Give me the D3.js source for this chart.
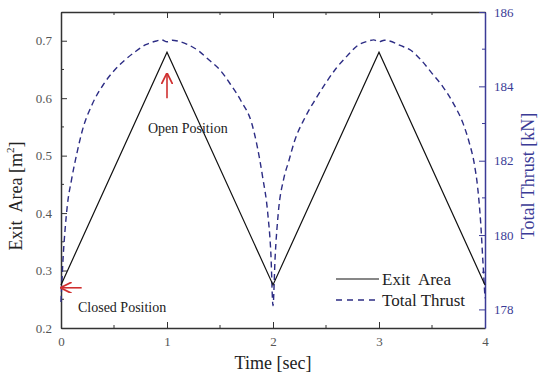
<!DOCTYPE html>
<html>
<head>
<meta charset="utf-8">
<script src="https://cdn.jsdelivr.net/npm/d3@7"></script>
<style>
  body { margin: 0; background: #fff; }
  text { font-family: "Liberation Serif", "DejaVu Serif", serif; }
</style>
</head>
<body>
<div id="chart"></div>
<script>
// exit area, triangle wave between closed and open
const areaTime = [0, 1, 2, 3, 4];
const exitArea = [0.275, 0.68, 0.275, 0.68, 0.275];

// total thrust
const thrustTime = [0, 0.02, 0.04, 0.06, 0.1, 0.15, 0.2, 0.3, 0.4, 0.5, 0.6, 0.7, 0.8, 0.9, 0.95, 1.0, 1.05, 1.1,
  1.2, 1.3, 1.4, 1.5, 1.6, 1.7, 1.8, 1.85, 1.9, 1.95, 1.98, 2.0, 2.02, 2.05, 2.1, 2.15, 2.2, 2.3, 2.4, 2.5,
  2.6, 2.7, 2.8, 2.9, 2.95, 3.0, 3.05, 3.1, 3.2, 3.3, 3.4, 3.5, 3.6, 3.7, 3.8, 3.85, 3.9, 3.93, 3.96, 3.98, 4.0];
const totalThrust = [178.2, 179.4, 180.2, 180.8, 181.5, 182.2, 182.8, 183.55, 184.05, 184.42, 184.7, 184.93, 185.12, 185.22, 185.25, 185.2, 185.24, 185.22,
  185.12, 184.95, 184.7, 184.44, 184.05, 183.6, 183.0, 182.4, 181.6, 180.6, 179.5, 178.1, 179.4, 180.6, 181.5, 182.0, 182.5, 183.15, 183.65, 184.1,
  184.5, 184.82, 185.1, 185.22, 185.25, 185.2, 185.24, 185.22, 185.1, 184.97, 184.7, 184.35, 184.0, 183.55, 182.95, 182.5, 181.9, 181.3, 180.3, 179.3, 178.3];

const xTicks = [0, 1, 2, 3, 4];
const leftTicks = [0.2, 0.3, 0.4, 0.5, 0.6, 0.7];
const rightTicks = [178, 180, 182, 184, 186];

const width = 542, height = 375;
const margin = {top: 12, right: 57, bottom: 47, left: 61};
const blue = "#3b3b96";
const navy = "#2c2c84";

const svg = d3.select("#chart").append("svg")
    .attr("width", width)
    .attr("height", height);

const x = d3.scaleLinear().domain([0, 4]).range([margin.left, width - margin.right]);
const y = d3.scaleLinear().domain([0.2, 0.75]).range([height - margin.bottom, margin.top]);
const y2 = d3.scaleLinear().domain([177.5, 186]).range([height - margin.bottom, margin.top]);

// axes, ticks pointing inward
const xAxisB = svg.append("g")
    .attr("transform", "translate(0," + (height - margin.bottom) + ")")
    .call(d3.axisBottom(x).tickValues(xTicks).tickFormat(d3.format("d")).tickSizeInner(-6).tickSizeOuter(0).tickPadding(9));
xAxisB.append("g").selectAll("line")
    .data([0.5, 1.5, 2.5, 3.5])
  .enter().append("line")
    .attr("x1", d => x(d)).attr("x2", d => x(d))
    .attr("y1", 0).attr("y2", -3)
    .attr("stroke", "#333");

const xAxisT = svg.append("g")
    .attr("transform", "translate(0," + margin.top + ")")
    .call(d3.axisTop(x).tickValues(xTicks).tickFormat("").tickSizeInner(-6).tickSizeOuter(0));
xAxisT.append("g").selectAll("line")
    .data([0.5, 1.5, 2.5, 3.5])
  .enter().append("line")
    .attr("x1", d => x(d)).attr("x2", d => x(d))
    .attr("y1", 0).attr("y2", 3)
    .attr("stroke", "#333");

const yAxisL = svg.append("g")
    .attr("transform", "translate(" + margin.left + ",0)")
    .call(d3.axisLeft(y).tickValues(leftTicks).tickFormat(d3.format(".1f")).tickSizeInner(-6).tickSizeOuter(0).tickPadding(9));
yAxisL.append("g").selectAll("line")
    .data([0.25, 0.35, 0.45, 0.55, 0.65])
  .enter().append("line")
    .attr("x1", 0).attr("x2", 3)
    .attr("y1", d => y(d)).attr("y2", d => y(d))
    .attr("stroke", "#333");

const yAxisR = svg.append("g")
    .attr("transform", "translate(" + (width - margin.right) + ",0)")
    .call(d3.axisRight(y2).tickValues(rightTicks).tickFormat(d3.format("d")).tickSizeInner(-6).tickSizeOuter(0).tickPadding(9));
yAxisR.append("g").selectAll("line")
    .data([179, 181, 183, 185])
  .enter().append("line")
    .attr("x1", 0).attr("x2", -3)
    .attr("y1", d => y2(d)).attr("y2", d => y2(d))
    .attr("stroke", blue);

[xAxisB, xAxisT, yAxisL].forEach(function(g){
  g.select(".domain").attr("stroke", "#333").attr("stroke-width", 1.5);
  g.selectAll(".tick line").attr("stroke", "#333");
  g.selectAll(".tick text").attr("fill", "#555").style("font-size", "13px");
});
yAxisR.select(".domain").attr("stroke", blue).attr("stroke-width", 1.5);
yAxisR.selectAll(".tick line").attr("stroke", blue);
yAxisR.selectAll(".tick text").attr("fill", blue).style("font-size", "13px");

// series
const areaData = areaTime.map((t, i) => ({t: t, v: exitArea[i]}));
const thrustData = thrustTime.map((t, i) => ({t: t, v: totalThrust[i]}));

svg.append("path")
    .datum(thrustData)
    .attr("fill", "none")
    .attr("stroke", navy)
    .attr("stroke-width", 1.4)
    .attr("stroke-dasharray", "6,4")
    .attr("d", d3.line().x(d => x(d.t)).y(d => y2(d.v)).curve(d3.curveMonotoneX));

svg.append("path")
    .datum(areaData)
    .attr("fill", "none")
    .attr("stroke", "#111")
    .attr("stroke-width", 1.2)
    .attr("d", d3.line().x(d => x(d.t)).y(d => y(d.v)));

// arrow markers
const defs = svg.append("defs");
defs.append("marker")
    .attr("id", "redhead")
    .attr("viewBox", "0 0 10 10")
    .attr("refX", 9).attr("refY", 5)
    .attr("markerWidth", 7).attr("markerHeight", 7)
    .attr("orient", "auto")
  .append("path")
    .attr("d", "M0,0 L10,5 L0,10")
    .attr("fill", "none")
    .attr("stroke", "#d03030")
    .attr("stroke-width", 1.6);

// open position
svg.append("line")
    .attr("x1", x(1)).attr("x2", x(1))
    .attr("y1", y(0.6)).attr("y2", y(0.642))
    .attr("stroke", "#d03030").attr("stroke-width", 1.6)
    .attr("marker-end", "url(#redhead)");
svg.append("text")
    .attr("x", x(0.82)).attr("y", y(0.54))
    .style("font-size", "14px")
    .attr("fill", "#222")
    .text("Open Position");

// closed position
svg.append("line")
    .attr("x1", x(0.195)).attr("x2", x(0.005))
    .attr("y1", y(0.27)).attr("y2", y(0.27))
    .attr("stroke", "#d03030").attr("stroke-width", 1.6)
    .attr("marker-end", "url(#redhead)");
svg.append("text")
    .attr("x", x(0.16)).attr("y", y(0.228))
    .style("font-size", "14px")
    .attr("fill", "#222")
    .text("Closed Position");

// legend
const legend = svg.append("g");
legend.append("line")
    .attr("x1", 336).attr("x2", 379).attr("y1", 279).attr("y2", 279)
    .attr("stroke", "#111").attr("stroke-width", 1.2);
legend.append("text")
    .attr("x", 382).attr("y", 285)
    .style("font-size", "17px").attr("fill", "#222")
    .style("white-space", "pre")
    .text("Exit  Area");
legend.append("line")
    .attr("x1", 336).attr("x2", 379).attr("y1", 300).attr("y2", 300)
    .attr("stroke", navy).attr("stroke-width", 1.4)
    .attr("stroke-dasharray", "6,5");
legend.append("text")
    .attr("x", 382).attr("y", 306)
    .style("font-size", "17px").attr("fill", "#222")
    .text("Total Thrust");

// axis titles
svg.append("text")
    .attr("x", x(2)).attr("y", 369)
    .attr("text-anchor", "middle")
    .style("font-size", "18px").attr("fill", "#222")
    .text("Time [sec]");

const lt = svg.append("text")
    .attr("transform", "translate(22,196) rotate(-90)")
    .attr("text-anchor", "middle")
    .style("font-size", "18px").attr("fill", "#222")
    .style("white-space", "pre");
lt.append("tspan").text("Exit  Area [m");
lt.append("tspan").attr("dy", -8).style("font-size", "11px").text("2");
lt.append("tspan").attr("dy", 8).text("]");

svg.append("text")
    .attr("transform", "translate(534,176) rotate(-90)")
    .attr("text-anchor", "middle")
    .style("font-size", "18px").attr("fill", blue)
    .text("Total Thrust [kN]");
</script>
</body>
</html>
